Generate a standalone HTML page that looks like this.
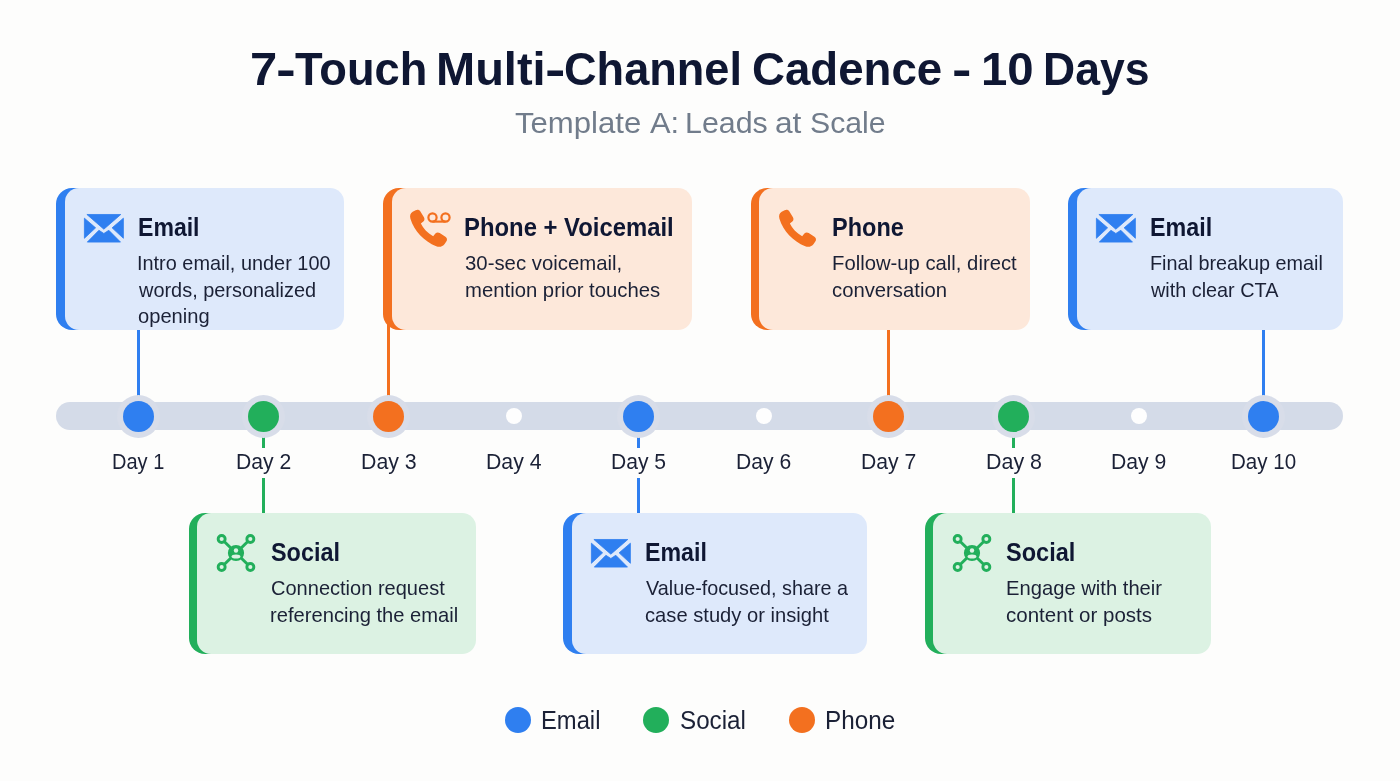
<!DOCTYPE html>
<html lang="en"><head><meta charset="utf-8"><title>7-Touch Multi-Channel Cadence - 10 Days</title>
<style>
html,body{margin:0;padding:0}
body{width:1400px;height:781px;overflow:hidden;background:#fdfdfc;font-family:"Liberation Sans",sans-serif;position:relative}
.t{position:absolute;white-space:nowrap;transform-origin:0 50%;margin:0;backface-visibility:hidden}
.w{position:absolute;left:0;top:0;margin:0;padding:0;font-size:0;line-height:0;font-weight:400}
.w .t{display:block}
.ic{position:absolute;display:block;overflow:visible}
.card{position:absolute}
.card b{position:absolute;left:0;top:0;bottom:0;width:34px;border-radius:16px 0 0 16px;display:block}
.card i{position:absolute;left:8.5px;top:0;right:0;bottom:0;border-radius:14px;display:block}
.ln{position:absolute;width:2.7px}
.bar{position:absolute;left:56px;top:402.3px;width:1287px;height:27.4px;border-radius:14px;background:#d4dbe8}
.halo{position:absolute;width:43px;height:43px;border-radius:50%;background:#d8dde9;top:394.5px}
.dot{position:absolute;width:31px;height:31px;border-radius:50%;top:400.5px}
.wd{position:absolute;width:16px;height:16px;border-radius:50%;background:#fefefe;top:408px}
.lbg{position:absolute;top:448px;height:30px;width:70px;background:#fdfdfc}
.lg{position:absolute;width:26px;height:26px;border-radius:50%;top:706.5px}
</style></head><body>
<h1 class="w"><span class="t" style="left:249.94px;top:41.57px;font-size:46.2px;line-height:55.44px;font-weight:700;color:#0f1733;transform:scaleX(1.0592);">7</span><span class="t" style="left:276.37px;top:41.57px;font-size:46.2px;line-height:55.44px;font-weight:700;color:#0f1733;transform:scaleX(1.2884);">-</span><span class="t" style="left:294.96px;top:41.57px;font-size:46.2px;line-height:55.44px;font-weight:700;color:#0f1733;transform:scaleX(0.9797);">Touch</span> <span class="t" style="left:435.65px;top:41.57px;font-size:46.2px;line-height:55.44px;font-weight:700;color:#0f1733;transform:scaleX(1.0177);">Multi</span><span class="t" style="left:544.54px;top:41.57px;font-size:46.2px;line-height:55.44px;font-weight:700;color:#0f1733;transform:scaleX(1.3313);">-</span><span class="t" style="left:564.35px;top:41.57px;font-size:46.2px;line-height:55.44px;font-weight:700;color:#0f1733;transform:scaleX(0.9767);">Channel</span> <span class="t" style="left:751.83px;top:41.57px;font-size:46.2px;line-height:55.44px;font-weight:700;color:#0f1733;transform:scaleX(0.9878);">Cadence</span> <span class="t" style="left:952.16px;top:41.57px;font-size:46.2px;line-height:55.44px;font-weight:700;color:#0f1733;transform:scaleX(1.2669);">-</span> <span class="t" style="left:981.22px;top:41.57px;font-size:46.2px;line-height:55.44px;font-weight:700;color:#0f1733;transform:scaleX(1.0253);">10</span> <span class="t" style="left:1043.31px;top:41.57px;font-size:46.2px;line-height:55.44px;font-weight:700;color:#0f1733;transform:scaleX(0.9643);">Days</span></h1>
<p class="w"><span class="t" style="left:515.01px;top:105.02px;font-size:30.2px;line-height:36.24px;color:#717c8b;transform:scaleX(1.0310);">Template</span> <span class="t" style="left:649.94px;top:105.02px;font-size:30.2px;line-height:36.24px;color:#717c8b;transform:scaleX(1.0221);">A:</span> <span class="t" style="left:684.61px;top:105.02px;font-size:30.2px;line-height:36.24px;color:#717c8b;transform:scaleX(1.0063);">Leads</span> <span class="t" style="left:775.27px;top:105.02px;font-size:30.2px;line-height:36.24px;color:#717c8b;transform:scaleX(1.0474);">at</span> <span class="t" style="left:810.01px;top:105.02px;font-size:30.2px;line-height:36.24px;color:#717c8b;transform:scaleX(1.0008);">Scale</span></p>
<div class="ln" style="left:137.25px;top:328px;height:68px;background:#2f7ff0"></div>
<div class="ln" style="left:387.4px;top:320px;height:76px;background:#f3701f"></div>
<div class="ln" style="left:887.4px;top:328px;height:68px;background:#f3701f"></div>
<div class="ln" style="left:1262.4px;top:328px;height:68px;background:#2f7ff0"></div>
<div class="ln" style="left:262.4px;top:436px;height:80px;background:#22af5b"></div>
<div class="ln" style="left:637.4px;top:436px;height:80px;background:#2f7ff0"></div>
<div class="ln" style="left:1012.4px;top:436px;height:80px;background:#22af5b"></div>
<div class="bar"></div>
<div class="halo" style="left:117px"></div><div class="dot" style="left:123px;background:#2f7ff0"></div>
<div class="halo" style="left:242px"></div><div class="dot" style="left:248px;background:#22af5b"></div>
<div class="halo" style="left:367px"></div><div class="dot" style="left:373px;background:#f3701f"></div>
<div class="wd" style="left:505.5px"></div>
<div class="halo" style="left:617px"></div><div class="dot" style="left:623px;background:#2f7ff0"></div>
<div class="wd" style="left:755.5px"></div>
<div class="halo" style="left:867px"></div><div class="dot" style="left:873px;background:#f3701f"></div>
<div class="halo" style="left:992px"></div><div class="dot" style="left:998px;background:#22af5b"></div>
<div class="wd" style="left:1130.5px"></div>
<div class="halo" style="left:1242px"></div><div class="dot" style="left:1248px;background:#2f7ff0"></div>
<div class="lbg" style="left:228px"></div>
<div class="lbg" style="left:603px"></div>
<div class="lbg" style="left:978px"></div>
<div class="t" style="left:111.66px;top:448.76px;font-size:21.6px;line-height:25.92px;color:#1b2136;transform:scaleX(0.9270);">Day 1</div>
<div class="t" style="left:235.76px;top:448.76px;font-size:21.6px;line-height:25.92px;color:#1b2136;transform:scaleX(0.9801);">Day 2</div>
<div class="t" style="left:360.75px;top:448.76px;font-size:21.6px;line-height:25.92px;color:#1b2136;transform:scaleX(0.9870);">Day 3</div>
<div class="t" style="left:485.66px;top:448.76px;font-size:21.6px;line-height:25.92px;color:#1b2136;transform:scaleX(0.9852);">Day 4</div>
<div class="t" style="left:610.57px;top:448.76px;font-size:21.6px;line-height:25.92px;color:#1b2136;transform:scaleX(0.9769);">Day 5</div>
<div class="t" style="left:735.77px;top:448.76px;font-size:21.6px;line-height:25.92px;color:#1b2136;transform:scaleX(0.9777);">Day 6</div>
<div class="t" style="left:860.76px;top:448.76px;font-size:21.6px;line-height:25.92px;color:#1b2136;transform:scaleX(0.9801);">Day 7</div>
<div class="t" style="left:985.74px;top:448.76px;font-size:21.6px;line-height:25.92px;color:#1b2136;transform:scaleX(0.9926);">Day 8</div>
<div class="t" style="left:1110.66px;top:448.76px;font-size:21.6px;line-height:25.92px;color:#1b2136;transform:scaleX(0.9811);">Day 9</div>
<div class="t" style="left:1230.61px;top:448.76px;font-size:21.6px;line-height:25.92px;color:#1b2136;transform:scaleX(0.9524);">Day 10</div>
<div class="card" style="left:56px;top:188.4px;width:288px;height:141.29999999999998px;"><b style="background:#2f7ff0"></b><i style="background:#dee9fb"></i></div>
<svg class="ic" style="left:83.9px;top:213.7px" width="39.8" height="28.6" viewBox="0 0 39.8 28.6"><g fill="#2f7ff0" stroke="#2f7ff0" stroke-width="0.8" stroke-linejoin="round"><path d="M2.9 0.5 L36.8 0.5 L19.85 15.2 Z"/><path d="M0.4 4.2 L0.4 24.3 L11.6 13.85 Z"/><path d="M39.4 4.2 L39.4 24.3 L28.1 13.85 Z"/><path d="M3.3 28.1 L36.5 28.1 L24.8 16.3 L19.85 19.5 L14.9 16.3 Z"/></g></svg>
<div class="t" style="left:138.08px;top:211.99px;font-size:25.1px;line-height:30.12px;font-weight:700;color:#0f1733;transform:scaleX(0.9189);">Email</div>
<div class="t" style="left:137.37px;top:251.19px;font-size:20.3px;line-height:24.36px;color:#1b2136;transform:scaleX(0.9808);">Intro email, under 100</div>
<div class="t" style="left:139.24px;top:277.94px;font-size:20.3px;line-height:24.36px;color:#1b2136;transform:scaleX(0.9822);">words, personalized</div>
<div class="t" style="left:138.35px;top:304.09px;font-size:20.3px;line-height:24.36px;color:#1b2136;transform:scaleX(0.9932);">opening</div>
<div class="card" style="left:383px;top:188.4px;width:309px;height:141.29999999999998px;"><b style="background:#f3701f"></b><i style="background:#fde8da"></i></div>
<svg class="ic" style="left:409.2px;top:209.3px" width="38.9" height="38.9" viewBox="0 0 38 38"><path d="M6.5 1.2 C8 0.3 10 0.6 11 2.2 L14.6 8 C15.5 9.5 15.2 11.2 14 12.2 L11.6 14.2 C13.8 19 18 23.5 23.6 26.6 L25.8 24 C26.9 22.8 28.6 22.6 30 23.5 L35.6 27 C37.2 28 37.6 30 36.6 31.5 L34.8 34.2 C33 36.8 29.8 37.6 26.6 36.4 C14.6 31.8 5 21.4 1.4 9.6 C0.5 6.6 1.4 4.2 3.6 2.8 Z" fill="#f3701f"/></svg>
<svg class="ic" style="left:427px;top:211.5px" width="24" height="11" viewBox="0 0 24 11"><circle cx="5.5" cy="5.5" r="4.1" fill="none" stroke="#f3701f" stroke-width="2.2"/><circle cx="18.5" cy="5.5" r="4.1" fill="none" stroke="#f3701f" stroke-width="2.2"/><path d="M5.5 9.6 H18.5" stroke="#f3701f" stroke-width="2.2"/></svg>
<div class="t" style="left:464.33px;top:211.99px;font-size:25.1px;line-height:30.12px;font-weight:700;color:#0f1733;transform:scaleX(0.9507);">Phone + Voicemail</div>
<div class="t" style="left:465.13px;top:251.19px;font-size:20.3px;line-height:24.36px;color:#1b2136;transform:scaleX(1.0030);">30-sec voicemail,</div>
<div class="t" style="left:464.56px;top:277.94px;font-size:20.3px;line-height:24.36px;color:#1b2136;transform:scaleX(1.0009);">mention prior touches</div>
<div class="card" style="left:750.5px;top:188.4px;width:279.0px;height:141.29999999999998px;"><b style="background:#f3701f"></b><i style="background:#fde8da"></i></div>
<svg class="ic" style="left:777.8px;top:209.0px" width="38.9" height="38.9" viewBox="0 0 38 38"><path d="M6.5 1.2 C8 0.3 10 0.6 11 2.2 L14.6 8 C15.5 9.5 15.2 11.2 14 12.2 L11.6 14.2 C13.8 19 18 23.5 23.6 26.6 L25.8 24 C26.9 22.8 28.6 22.6 30 23.5 L35.6 27 C37.2 28 37.6 30 36.6 31.5 L34.8 34.2 C33 36.8 29.8 37.6 26.6 36.4 C14.6 31.8 5 21.4 1.4 9.6 C0.5 6.6 1.4 4.2 3.6 2.8 Z" fill="#f3701f"/></svg>
<div class="t" style="left:832.05px;top:211.99px;font-size:25.1px;line-height:30.12px;font-weight:700;color:#0f1733;transform:scaleX(0.9367);">Phone</div>
<div class="t" style="left:831.54px;top:251.19px;font-size:20.3px;line-height:24.36px;color:#1b2136;transform:scaleX(0.9990);">Follow-up call, direct</div>
<div class="t" style="left:831.95px;top:277.94px;font-size:20.3px;line-height:24.36px;color:#1b2136;transform:scaleX(0.9996);">conversation</div>
<div class="card" style="left:1068px;top:188.4px;width:275px;height:141.29999999999998px;"><b style="background:#2f7ff0"></b><i style="background:#dee9fb"></i></div>
<svg class="ic" style="left:1095.7px;top:213.7px" width="39.8" height="28.6" viewBox="0 0 39.8 28.6"><g fill="#2f7ff0" stroke="#2f7ff0" stroke-width="0.8" stroke-linejoin="round"><path d="M2.9 0.5 L36.8 0.5 L19.85 15.2 Z"/><path d="M0.4 4.2 L0.4 24.3 L11.6 13.85 Z"/><path d="M39.4 4.2 L39.4 24.3 L28.1 13.85 Z"/><path d="M3.3 28.1 L36.5 28.1 L24.8 16.3 L19.85 19.5 L14.9 16.3 Z"/></g></svg>
<div class="t" style="left:1149.76px;top:211.99px;font-size:25.1px;line-height:30.12px;font-weight:700;color:#0f1733;transform:scaleX(0.9284);">Email</div>
<div class="t" style="left:1149.67px;top:251.19px;font-size:20.3px;line-height:24.36px;color:#1b2136;transform:scaleX(0.9763);">Final breakup email</div>
<div class="t" style="left:1150.94px;top:277.94px;font-size:20.3px;line-height:24.36px;color:#1b2136;transform:scaleX(0.9774);">with clear CTA</div>
<div class="card" style="left:188.5px;top:513.2px;width:287.0px;height:141.29999999999995px;"><b style="background:#22af5b"></b><i style="background:#dcf2e3"></i></div>
<svg class="ic" style="left:216.3px;top:532.8px" width="40" height="40" viewBox="0 0 40 40"><g fill="none" stroke="#22af5b"><path d="M5.65 6 L34.35 34 M34.35 6 L5.65 34" stroke-width="3"/><g stroke-width="2.9" fill="#dcf2e3"><circle cx="5.65" cy="6" r="3.5"/><circle cx="34.35" cy="6" r="3.5"/><circle cx="5.65" cy="34" r="3.5"/><circle cx="34.35" cy="34" r="3.5"/></g></g><circle cx="20" cy="20" r="8.1" fill="#22af5b"/><circle cx="20" cy="17.5" r="2.2" fill="#dcf2e3"/><ellipse cx="20" cy="23.5" rx="4.4" ry="2.1" fill="#dcf2e3"/></svg>
<div class="t" style="left:270.90px;top:536.94px;font-size:25.1px;line-height:30.12px;font-weight:700;color:#0f1733;transform:scaleX(0.9323);">Social</div>
<div class="t" style="left:270.50px;top:576.14px;font-size:20.3px;line-height:24.36px;color:#1b2136;transform:scaleX(0.9876);">Connection request</div>
<div class="t" style="left:270.47px;top:602.94px;font-size:20.3px;line-height:24.36px;color:#1b2136;transform:scaleX(0.9942);">referencing the email</div>
<div class="card" style="left:563px;top:513.2px;width:304px;height:141.29999999999995px;"><b style="background:#2f7ff0"></b><i style="background:#dee9fb"></i></div>
<svg class="ic" style="left:590.6px;top:538.5px" width="39.8" height="28.6" viewBox="0 0 39.8 28.6"><g fill="#2f7ff0" stroke="#2f7ff0" stroke-width="0.8" stroke-linejoin="round"><path d="M2.9 0.5 L36.8 0.5 L19.85 15.2 Z"/><path d="M0.4 4.2 L0.4 24.3 L11.6 13.85 Z"/><path d="M39.4 4.2 L39.4 24.3 L28.1 13.85 Z"/><path d="M3.3 28.1 L36.5 28.1 L24.8 16.3 L19.85 19.5 L14.9 16.3 Z"/></g></svg>
<div class="t" style="left:644.62px;top:536.94px;font-size:25.1px;line-height:30.12px;font-weight:700;color:#0f1733;transform:scaleX(0.9244);">Email</div>
<div class="t" style="left:645.62px;top:576.14px;font-size:20.3px;line-height:24.36px;color:#1b2136;transform:scaleX(0.9755);">Value-focused, share a</div>
<div class="t" style="left:644.85px;top:602.94px;font-size:20.3px;line-height:24.36px;color:#1b2136;transform:scaleX(0.9944);">case study or insight</div>
<div class="card" style="left:924.5px;top:513.2px;width:286.75px;height:141.29999999999995px;"><b style="background:#22af5b"></b><i style="background:#dcf2e3"></i></div>
<svg class="ic" style="left:952.3px;top:532.8px" width="40" height="40" viewBox="0 0 40 40"><g fill="none" stroke="#22af5b"><path d="M5.65 6 L34.35 34 M34.35 6 L5.65 34" stroke-width="3"/><g stroke-width="2.9" fill="#dcf2e3"><circle cx="5.65" cy="6" r="3.5"/><circle cx="34.35" cy="6" r="3.5"/><circle cx="5.65" cy="34" r="3.5"/><circle cx="34.35" cy="34" r="3.5"/></g></g><circle cx="20" cy="20" r="8.1" fill="#22af5b"/><circle cx="20" cy="17.5" r="2.2" fill="#dcf2e3"/><ellipse cx="20" cy="23.5" rx="4.4" ry="2.1" fill="#dcf2e3"/></svg>
<div class="t" style="left:1006.49px;top:536.94px;font-size:25.1px;line-height:30.12px;font-weight:700;color:#0f1733;transform:scaleX(0.9386);">Social</div>
<div class="t" style="left:1005.84px;top:576.14px;font-size:20.3px;line-height:24.36px;color:#1b2136;transform:scaleX(0.9958);">Engage with their</div>
<div class="t" style="left:1006.34px;top:602.94px;font-size:20.3px;line-height:24.36px;color:#1b2136;transform:scaleX(1.0121);">content or posts</div>
<div class="lg" style="left:504.79999999999995px;background:#2f7ff0"></div>
<div class="lg" style="left:643.3px;background:#22af5b"></div>
<div class="lg" style="left:788.7px;background:#f3701f"></div>
<div class="t" style="left:541.35px;top:704.54px;font-size:25px;line-height:30.0px;color:#1b2136;transform:scaleX(0.9507);">Email</div>
<div class="t" style="left:680.39px;top:704.54px;font-size:25px;line-height:30.0px;color:#1b2136;transform:scaleX(0.9678);">Social</div>
<div class="t" style="left:825.21px;top:704.54px;font-size:25px;line-height:30.0px;color:#1b2136;transform:scaleX(0.9704);">Phone</div>
</body></html>
